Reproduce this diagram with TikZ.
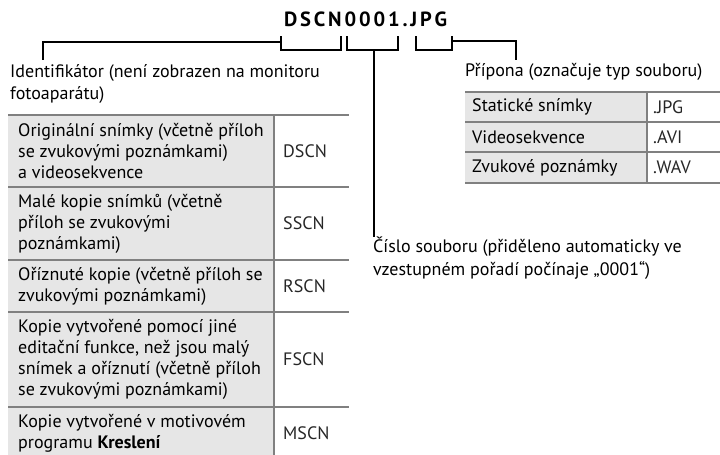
\documentclass[tikz,border=0pt]{standalone}
\usepackage{fontspec}
\setmainfont{PT Sans}
\usepackage{tikz}
\usetikzlibrary{positioning}
\definecolor{cellgray}{RGB}{230,230,230}
\definecolor{rulegray}{RGB}{128,128,128}
\tikzset{
  brk/.style   ={line width=1.6pt},
  lbl/.style   ={anchor=west, inner sep=0pt, align=left, font=\fontsize{18}{22.5}\selectfont},
  cell/.style  ={anchor=west, inner sep=0pt, align=left, font=\fontsize{18}{21}\selectfont},
  code/.style  ={cell, text=black!85},
  rowrule/.style={draw=rulegray, line width=2.2pt},
  fname/.style ={anchor=base, inner sep=0pt, font=\fontsize{20.5}{24}\selectfont\bfseries\addfontfeature{LetterSpace=14}},
}

\begin{document}
\begin{tikzpicture}[x=1pt, y=-1pt]
  \useasboundingbox (0,0) rectangle (720,455);

  \node[fname] (title) at (365.5,26) {DSCN0001.JPG};

  % brackets under the file name
  \draw[brk] (281,36) -- (281,50) -- (341,50) -- (341,36);
  \draw[brk] (347,36) -- (347,50) -- (398,50) -- (398,36);
  \draw[brk] (416,36) -- (416,50) -- (452,50) -- (452,36);
  \coordinate (idarm) at (43,60);
  \coordinate (numarm) at (374,237);
  \coordinate (extarm) at (516,60);
  \draw[brk] (281,42) -| (idarm);
  \draw[brk] (374,50) -- (numarm);
  \draw[brk] (452,41) -| (extarm);

  \node[lbl] (idlbl) at (10,84) {Identifikátor (není zobrazen na monitoru\\fotoaparátu)};
  \node[lbl] (extlbl) at (465,72) {Přípona (označuje typ souboru)};
  \node[lbl] (numlbl) at (373,258) {Číslo souboru (přiděleno automaticky ve\\vzestupném pořadí počínaje „0001“)};

  % prefix table
  \fill[cellgray] (8,115) rectangle (274,455);
  \foreach \y in {115,187,260,312,407}
    \draw[rowrule] (8,\y) -- (349,\y);
  \draw[rowrule] (274,115) -- (274,455);

  \node[cell] (orig) at (18,151) {Originální snímky (včetně příloh\\se zvukovými poznámkami)\\a videosekvence};
  \node[code] (dscn) at (283,151) {DSCN};
  \node[cell] (small) at (18,223.5) {Malé kopie snímků (včetně\\příloh se zvukovými\\poznámkami)};
  \node[code] (sscn) at (283,223.5) {SSCN};
  \node[cell] (crop) at (18,286) {Oříznuté kopie (včetně příloh se\\zvukovými poznámkami)};
  \node[code] (rscn) at (283,286) {RSCN};
  \node[cell] (edit) at (18,359.5) {Kopie vytvořené pomocí jiné\\editační funkce, než jsou malý\\snímek a oříznutí (včetně příloh\\se zvukovými poznámkami)};
  \node[code] (fscn) at (283,359.5) {FSCN};
  \node[cell] (paint) at (18,433) {Kopie vytvořené v motivovém\\programu \textbf{Kreslení}};
  \node[code] (mscn) at (283,433) {MSCN};

  % extension table
  \fill[cellgray] (465,92) rectangle (647,183);
  \foreach \y in {92,122,152,183}
    \draw[rowrule] (465,\y) -- (720,\y);
  \draw[rowrule] (647,92) -- (647,183);

  \node[cell] (still) at (472,107) {Statické snímky};
  \node[code] (jpg) at (653,107) {.JPG};
  \node[cell] (movie) at (472,137) {Videosekvence};
  \node[code] (avi) at (653,137) {.AVI};
  \node[cell] (sound) at (472,167.5) {Zvukové poznámky};
  \node[code] (wav) at (653,167.5) {.WAV};
\end{tikzpicture}
\end{document}
